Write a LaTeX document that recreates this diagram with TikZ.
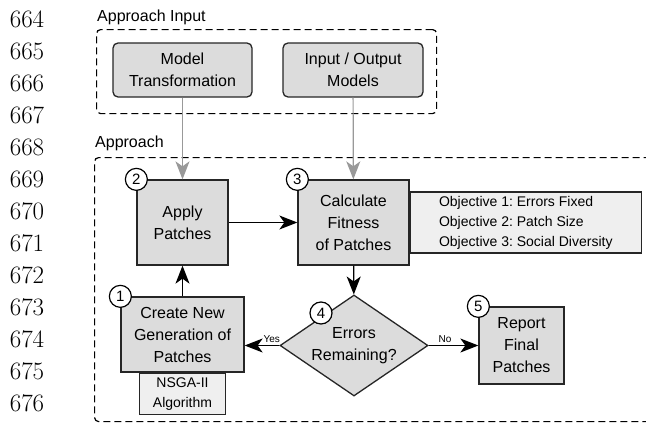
\documentclass[tikz,border=0pt]{standalone}
\usepackage{fontspec}
\newfontfamily\arialfont{Liberation Sans}
\usetikzlibrary{shapes.geometric,arrows.meta}
\definecolor{boxgray}{HTML}{DCDCDC}
\definecolor{notegray}{HTML}{EFEFEF}
\definecolor{feedgray}{HTML}{999999}
\frenchspacing

\begin{document}
\begin{tikzpicture}[
        x=1pt, y=-1pt, % pixel units, y runs downwards
        every node/.style={font=\arialfont\fontsize{16}{22}\selectfont},
        lineno/.style={font=\fontsize{25}{25}\selectfont},
        grouplab/.style={anchor=west, inner sep=0pt},
        group/.style={draw, dash pattern=on 7pt off 4pt, line width=1.2pt, rounded corners=4pt, inner sep=0pt},
        inbox/.style={draw=black!85, line width=1.3pt, fill=boxgray, rounded corners=5pt, align=center, inner sep=0pt},
        stepbox/.style={draw=black!85, line width=1.3pt, fill=boxgray, align=center, inner sep=0pt},
        notebox/.style={draw=black!85, line width=1.3pt, fill=notegray, align=left, inner sep=0pt,
                font=\arialfont\fontsize{14}{20}\selectfont},
        decision/.style={diamond, draw=black!85, line width=1.3pt, fill=boxgray, align=center, inner sep=0pt,
                minimum width=148pt, minimum height=101pt},
        num/.style={circle, draw, fill=white, line width=1.2pt, minimum size=22pt, inner sep=0pt,
                font=\arialfont\fontsize{15}{15}\selectfont},
        flow/.style={draw, line width=1.3pt, -{Stealth[length=18pt, width=14pt, inset=5pt]}},
        feed/.style={draw=feedgray, line width=1.2pt, -{Stealth[length=18pt, width=14pt, inset=5pt]}},
        small/.style={font=\arialfont\fontsize{10}{10}\selectfont, inner sep=2pt},
    ]
    \useasboundingbox (0,0) rectangle (646,423);
    \clip (0,0) rectangle (646,423);

    % line numbers of the page
    \foreach \i in {0,...,12} {
        \pgfmathtruncatemacro\lineval{664+\i}
        \node[lineno] (ln\i) at (27,19+32*\i) {\lineval};
    }

    % inputs
    \node[grouplab] (inlab) at (97,17) {Approach Input};
    \node[group, anchor=north west, minimum width=340pt, minimum height=84pt] (ingroup) at (96,29) {};
    \node[inbox, minimum width=139pt, minimum height=54pt] (trans) at (182.5,70) {Model\\Transformation};
    \node[inbox, minimum width=140pt, minimum height=54pt] (models) at (353,70) {Input / Output\\Models};

    % approach
    \node[grouplab] (applab) at (95,143) {Approach};
    \node[group, anchor=north west, minimum width=560pt, minimum height=264pt] (appgroup) at (94,157) {};

    \node[stepbox, minimum width=91pt, minimum height=85pt] (apply) at (182.5,222.5) {Apply\\Patches};
    \node[stepbox, minimum width=111pt, minimum height=85pt] (fitness) at (353.5,222.5) {Calculate\\Fitness\\of Patches};
    \node[notebox, minimum width=231pt, minimum height=61pt, anchor=west] (objectives) at (fitness.east) {Objective 1: Errors Fixed\\Objective 2: Patch Size\\Objective 3: Social Diversity};
    \node[decision, shape aspect=1.47] (errors) at (354,345.5) {Errors\\Remaining?};
    \node[stepbox, minimum width=123pt, minimum height=75pt] (create) at (182.5,334.5) {Create New\\Generation of\\Patches};
    \node[notebox, align=center, minimum width=86pt, minimum height=41pt, anchor=north] (nsga) at (create.south) {NSGA-II\\Algorithm};
    \node[stepbox, minimum width=85pt, minimum height=77pt] (report) at (521.5,345.5) {Report\\Final\\Patches};

    % step numbers
    \node[num] (n1) at (create.north west) {1};
    \node[num] (n2) at (apply.north west) {2};
    \node[num] (n3) at (fitness.north west) {3};
    \node[num] (n4) at (321,313) {4};
    \node[num] (n5) at (report.north west) {5};

    % connectors
    \draw[feed] (trans) -- (apply);
    \draw[feed] (models) -- (fitness);
    \draw[flow] (apply) -- (fitness);
    \draw[flow] (fitness) -- (errors);
    \draw[flow] (errors.west) -- node[small, above, pos=0.22] {Yes} (errors.west -| create.east);
    \draw[flow] (errors.east) -- node[small, above, pos=0.33] {No} (errors.east -| report.west);
    \draw[flow] (create) -- (apply);
\end{tikzpicture}
\end{document}
